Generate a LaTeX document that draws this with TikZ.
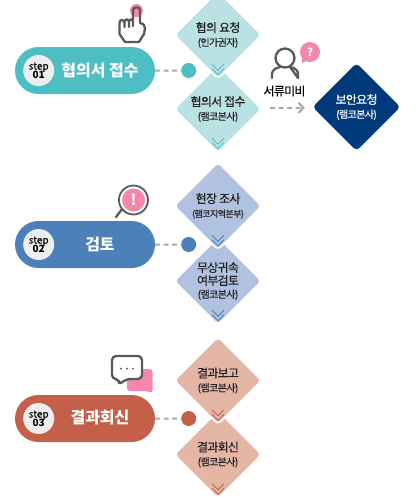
\documentclass[tikz,border=0pt]{standalone}
\usepackage{fontspec}
\setmainfont{Noto Sans CJK KR}
\newfontfamily\tightfont[LetterSpace=-6,FakeBold=0.25]{Noto Sans CJK KR}
\newfontfamily\midfont[FakeBold=0.3]{Noto Sans CJK KR}
\usetikzlibrary{shapes.geometric,shapes.misc,arrows.meta}
\definecolor{tealmain}{HTML}{4DBFC4}
\definecolor{teallight}{HTML}{BAE2E5}
\definecolor{bluemain}{HTML}{4C80B8}
\definecolor{bluelight}{HTML}{B1C2E0}
\definecolor{redmain}{HTML}{C4604A}
\definecolor{redlight}{HTML}{E5B5A5}
\definecolor{navybox}{HTML}{003A7A}
\definecolor{pinkicon}{HTML}{F388AD}
\definecolor{iconline}{HTML}{58595B}
\definecolor{dashgray}{HTML}{A7A9AC}
\definecolor{stepgray}{HTML}{EDEEF0}
\definecolor{textdark}{HTML}{231F20}
\newcommand{\sublabel}[1]{{\fontsize{10}{12}\selectfont #1}}
\newcommand{\steplabel}[1]{{\midfont step}\\[-2.5pt]{\bfseries #1}}
\tikzset{
  steppill/.style={rounded rectangle,minimum width=140pt,minimum height=47pt,inner sep=0pt},
  stepdot/.style={circle,fill=stepgray,inner sep=0pt,minimum size=31pt,align=center,text=black,font=\fontsize{10}{11}\selectfont},
  steptext/.style={text=white,font=\fontsize{16}{18}\selectfont\bfseries},
  joindot/.style={circle,inner sep=0pt,minimum size=15pt},
  joinline/.style={line width=2pt,dashgray,dash pattern=on 5pt off 3.5pt},
  stage/.style={diamond,draw=white,line width=1.6pt,rounded corners=4pt,inner sep=0pt,minimum width=88pt,minimum height=88pt,align=center,text=textdark,font=\fontsize{12}{14}\selectfont\tightfont},
  goarrow/.style={-{Straight Barb[length=5pt,width=10pt,line width=2pt]},line width=2pt,dashgray,dash pattern=on 5pt off 3.5pt,shorten <=8pt,shorten >=8pt},
  iconstroke/.style={draw=iconline,line width=2.3pt,line join=round,line cap=round},
  chevron/.pic={
    \draw[line width=.8pt] (-6,-15.5) -- (0,-9.5) -- (6,-15.5);
    \draw[line width=.8pt] (-6,-11) -- (0,-5) -- (6,-11);
  }
}

\begin{document}
\begin{tikzpicture}[x=1pt,y=-1pt]
  \useasboundingbox (0,0) rectangle (420,504);

  % step 1
  \node[steppill,fill=tealmain] (pill1) at (85,70.5) {};
  \node[stepdot] (num1) at (38.7,70.5) {\steplabel{01}};
  \node[steptext] (name1) at (100,70) {협의서 접수};
  \node[joindot,fill=tealmain] (dot1) at (188.7,70.5) {};
  \draw[joinline] (pill1) -- (dot1);
  \node[stage,fill=teallight] (d2) at (218,109) {협의서 접수\\\sublabel{(램코본사)}};
  \node[stage,fill=teallight] (d1) at (218,35) {협의 요청\\\sublabel{(인가권자)}};
  \pic[tealmain] at (d1.south) {chevron};
  \pic[tealmain] at (d2.south) {chevron};

  \node[diamond,fill=navybox,rounded corners=4pt,inner sep=0pt,minimum width=88pt,minimum height=88pt,align=center,text=white,font=\fontsize{12}{14}\selectfont\tightfont] (request) at (356.5,107) {보안요청\\\sublabel{(램코본사)}};
  \draw[goarrow] (d2) -- (request);
  \node[text=black,font=\fontsize{12}{14}\selectfont\tightfont] (lack) at (284.5,91) {서류미비};

  % person icon
  \draw[iconstroke] (285,58) circle (9.5);
  \draw[iconstroke] (272,78) -- (272,75) .. controls (272,68) and (278,68) .. (280,67) (290,67) .. controls (293,68) and (298,68) .. (298,75) -- (298,78) -- cycle;
  \fill[pinkicon] (310,52) circle (10);
  \fill[pinkicon] (302,57) -- (302,63) -- (308,60) -- cycle;
  \node[text=white,font=\fontsize{11}{11}\selectfont\bfseries] (ask) at (310,52) {?};

  % hand icon
  \fill[pinkicon] (136.5,10.5) circle (6.5);
  \draw[iconstroke] (133,26) -- (133,10) .. controls (133,6.5) and (140,6.5) .. (140,10) -- (140,23)
    .. controls (143,23) and (145,25) .. (145,28) -- (144,34) -- (139,42) -- (125,42) -- (119.5,34) -- (119.5,23)
    .. controls (119.5,19) and (124,19) .. (124.5,23) -- (124.5,27);
  \draw[iconstroke] (124.5,22) .. controls (125,18.5) and (128.5,18.5) .. (129,22) -- (129,27);
  \draw[iconstroke] (129,21) .. controls (129.5,18.5) and (133,18.5) .. (133,21);

  % step 2
  \node[steppill,fill=bluemain] (pill2) at (85,244.5) {};
  \node[stepdot] (num2) at (38.7,244.5) {\steplabel{02}};
  \node[steptext] (name2) at (100,244) {검토};
  \node[joindot,fill=bluemain] (dot2) at (188.7,244.5) {};
  \draw[joinline] (pill2) -- (dot2);
  \node[stage,fill=bluelight] (d4) at (218,281) {무상귀속\\[-1pt]여부검토\\[-1pt]\sublabel{(램코본사)}};
  \node[stage,fill=bluelight] (d3) at (218,206) {현장 조사\\{\fontsize{9}{12}\selectfont (램코지역본부)}};
  \pic[bluemain] at (d3.south) {chevron};
  \pic[bluemain] at (d4.south) {chevron};

  % magnifier icon
  \draw[iconstroke] (122,209) -- (116,217);
  \draw[iconstroke,line width=1.8pt] (133.5,200) circle (14.5);
  \fill[pinkicon] (133.5,200) circle (11.5);
  \node[text=white,font=\fontsize{15}{15}\selectfont\bfseries] (warn) at (133.5,200) {!};

  % step 3
  \node[steppill,fill=redmain] (pill3) at (85,418.5) {};
  \node[stepdot] (num3) at (38.7,418.5) {\steplabel{03}};
  \node[steptext] (name3) at (100,418) {결과회신};
  \node[joindot,fill=redmain] (dot3) at (188.7,418.5) {};
  \draw[joinline] (pill3) -- (dot3);
  \node[stage,fill=redlight] (d6) at (218,454.5) {결과회신\\\sublabel{(램코본사)}};
  \node[stage,fill=redlight] (d5) at (218,380.5) {결과보고\\\sublabel{(램코본사)}};
  \pic[redmain] at (d5.south) {chevron};
  \pic[redmain] at (d6.south) {chevron};

  % chat icon
  \fill[pinkicon,rounded corners=3pt] (127,369) -- (152.5,369) -- (152.5,393) -- (147,391) -- (127,391) -- cycle;
  \draw[iconstroke,fill=white,rounded corners=4pt] (142,356) -- (142,379) -- (126,379) -- (119,385) -- (119,379) -- (112,379) -- (112,356) -- cycle;
  \foreach \dx in {121,127,133} \fill[iconline] (\dx,368.5) circle (1);
\end{tikzpicture}
\end{document}
